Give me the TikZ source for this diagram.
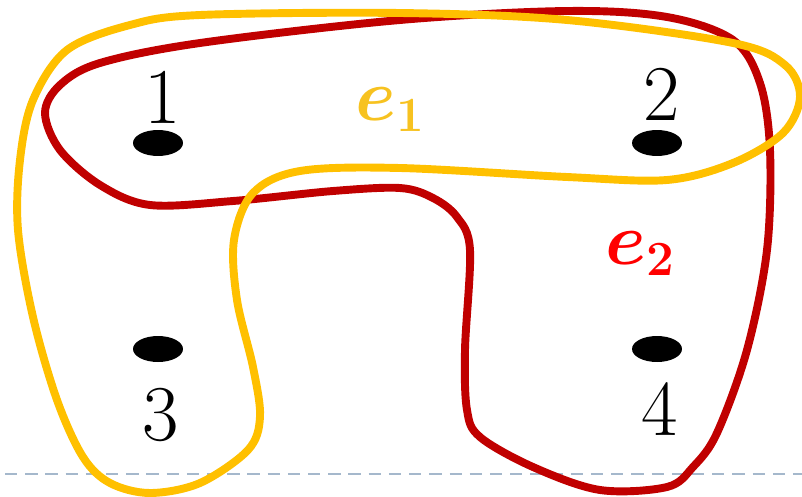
\RequirePackage{fix-cm}
\documentclass[tikz,border=0pt]{standalone}
\usepackage{amsmath,amssymb}
\usepackage{xcolor}
\usepackage{tikz}
\usetikzlibrary{shapes.geometric}

\definecolor{edgeyellow}{RGB}{255,192,0}
\definecolor{labelyellow}{RGB}{247,194,32}
\definecolor{edgered}{RGB}{192,0,0}
\definecolor{labelred}{RGB}{255,0,0}
\definecolor{groundgray}{RGB}{165,184,204}

\newcommand{\edgename}[1]{$\boldsymbol{e}_{\text{\fontsize{28}{30}\selectfont\bfseries #1}}$}

\begin{document}
\begin{tikzpicture}[
  x=0.02cm, y=-0.02cm,
  vertex/.style={ellipse, fill=black, inner sep=0pt, minimum width=1cm, minimum height=0.52cm},
  vlabel/.style={font=\fontsize{45}{50}\selectfont, inner sep=0pt},
  elabel/.style={font=\fontsize{42}{46}\selectfont, inner sep=0pt},
  hyper/.style={line width=4.5pt, line join=round}
]
\useasboundingbox (0,0) rectangle (802,497);
% ground line
\draw[groundgray, line width=0.9pt, dash pattern=on 7pt off 4.5pt] (5,474) -- (802,474);
% e2
\draw[hyper, edgered] plot[smooth cycle, tension=0.55] coordinates {
  (45,113) (60,85) (100,63) (200,43) (400,20) (567,11) (667,17) (733,40)
  (760,83) (770,150) (767,250) (747,350) (717,433) (693,467) (667,487)
  (600,490) (533,467) (480,437) (467,410) (465,350) (470,250) (457,217)
  (433,198) (400,188) (333,191) (233,201) (150,205) (100,185) (60,150)};
% e1
\draw[hyper, edgeyellow] plot[smooth cycle, tension=0.55] coordinates {
  (33,100) (67,50) (130,25) (200,15) (400,13) (567,20) (733,43) (785,65)
  (800,97) (783,133) (733,163) (667,180) (567,177) (400,168) (300,171)
  (253,193) (234,240) (237,300) (253,367) (260,417) (248,450) (200,483)
  (150,493) (110,483) (83,457) (57,400) (33,317) (18,230) (20,160)};
% vertices
\node[vertex] (v1) at (158,143) {};
\node[vertex] (v2) at (657,143) {};
\node[vertex] (v3) at (158,349) {};
\node[vertex] (v4) at (657,349) {};
\node[vlabel] (n1) at (163,97) {1};
\node[vlabel] (n2) at (662,94) {2};
\node[vlabel] (n3) at (161,415) {3};
\node[vlabel] (n4) at (660,409) {4};
% edge names
\node[elabel, labelyellow] (e1) at (390,110) {\edgename{1}};
\node[elabel, labelred] (e2) at (640,254) {\edgename{2}};
\end{tikzpicture}
\end{document}
